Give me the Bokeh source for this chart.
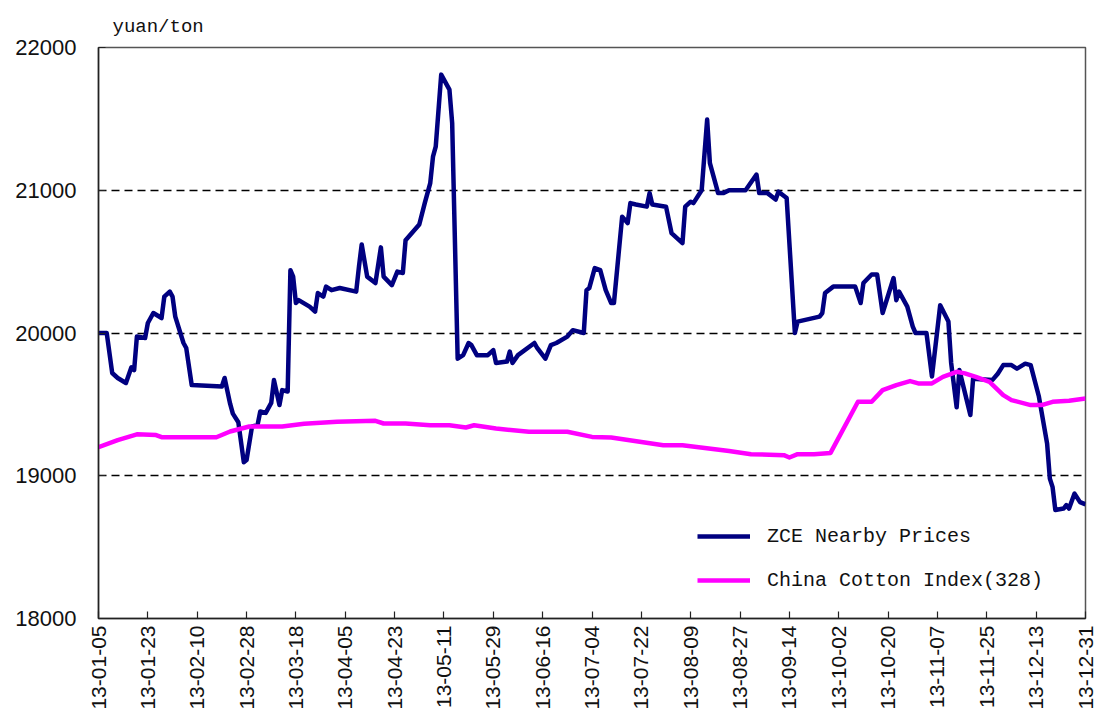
import pandas as pd
from math import pi
from bokeh.plotting import figure
from bokeh.models import (ColumnDataSource, Range1d, FixedTicker, DatetimeTickFormatter,
                          Legend, LegendItem)
from bokeh.embed import file_html
from bokeh.resources import INLINE

# ---------------- data ----------------
zce_dates = ["2013-01-05", "2013-01-08", "2013-01-10", "2013-01-12", "2013-01-15", "2013-01-17", "2013-01-18",
             "2013-01-19", "2013-01-22", "2013-01-23", "2013-01-25", "2013-01-28", "2013-01-29", "2013-01-31",
             "2013-02-01", "2013-02-02", "2013-02-05", "2013-02-06", "2013-02-08", "2013-02-19", "2013-02-20",
             "2013-02-22", "2013-02-23", "2013-02-25", "2013-02-27", "2013-02-28", "2013-03-02", "2013-03-04",
             "2013-03-05", "2013-03-07", "2013-03-09", "2013-03-10", "2013-03-12", "2013-03-13", "2013-03-15",
             "2013-03-16", "2013-03-17", "2013-03-18", "2013-03-19", "2013-03-23", "2013-03-25", "2013-03-26",
             "2013-03-28", "2013-03-29", "2013-03-31", "2013-04-03", "2013-04-09", "2013-04-10", "2013-04-11",
             "2013-04-13", "2013-04-16", "2013-04-18", "2013-04-19", "2013-04-22", "2013-04-24", "2013-04-26",
             "2013-04-27", "2013-05-02", "2013-05-04", "2013-05-06", "2013-05-07", "2013-05-08", "2013-05-10",
             "2013-05-13", "2013-05-14", "2013-05-16", "2013-05-18", "2013-05-20", "2013-05-21", "2013-05-23",
             "2013-05-27", "2013-05-29", "2013-05-30", "2013-06-03", "2013-06-04", "2013-06-05", "2013-06-07",
             "2013-06-13", "2013-06-14", "2013-06-17", "2013-06-19", "2013-06-21", "2013-06-25", "2013-06-27",
             "2013-07-01", "2013-07-02", "2013-07-03", "2013-07-05", "2013-07-07", "2013-07-09", "2013-07-11",
             "2013-07-12", "2013-07-15", "2013-07-17", "2013-07-18", "2013-07-20", "2013-07-24", "2013-07-25",
             "2013-07-26", "2013-07-31", "2013-08-02", "2013-08-06", "2013-08-07", "2013-08-09", "2013-08-10",
             "2013-08-13", "2013-08-15", "2013-08-16", "2013-08-19", "2013-08-21", "2013-08-23", "2013-08-29",
             "2013-09-02", "2013-09-03", "2013-09-06", "2013-09-09", "2013-09-10", "2013-09-13", "2013-09-16",
             "2013-09-17", "2013-09-25", "2013-09-26", "2013-09-27", "2013-09-30", "2013-10-08", "2013-10-10",
             "2013-10-11", "2013-10-14", "2013-10-16", "2013-10-18", "2013-10-22", "2013-10-23", "2013-10-24",
             "2013-10-27", "2013-10-29", "2013-10-30", "2013-11-03", "2013-11-05", "2013-11-08", "2013-11-11",
             "2013-11-12", "2013-11-14", "2013-11-15", "2013-11-19", "2013-11-20", "2013-11-27", "2013-11-29",
             "2013-12-01", "2013-12-04", "2013-12-06", "2013-12-09", "2013-12-11", "2013-12-14", "2013-12-17",
             "2013-12-18", "2013-12-19", "2013-12-20", "2013-12-23", "2013-12-24", "2013-12-25", "2013-12-27",
             "2013-12-29", "2013-12-31"]
zce_prices = [20000, 20000, 19720, 19685, 19650, 19760, 19740,
              19975, 19965, 20070, 20140, 20105, 20255, 20290,
              20255, 20115, 19930, 19895, 19635, 19625, 19685,
              19505, 19435, 19375, 19095, 19110, 19345, 19355,
              19450, 19440, 19510, 19670, 19495, 19600, 19590,
              20440, 20395, 20210, 20230, 20185, 20150, 20280,
              20255, 20325, 20300, 20315, 20290, 20465, 20620,
              20395, 20350, 20600, 20395, 20335, 20430, 20420,
              20650, 20760, 20910, 21050, 21235, 21305, 21810,
              21705, 21470, 19820, 19845, 19930, 19915, 19845,
              19845, 19880, 19790, 19800, 19870, 19790, 19845,
              19930, 19895, 19820, 19915, 19930, 19975, 20020,
              20000, 20300, 20315, 20455, 20440, 20300, 20210,
              20210, 20815, 20770, 20910, 20900, 20885, 20980,
              20900, 20885, 20700, 20630, 20885, 20920, 20910,
              21000, 21495, 21190, 20980, 20980, 21000, 21000,
              21110, 20980, 20980, 20935, 20990, 20945, 20000,
              20080, 20115, 20140, 20280, 20325, 20325, 20210,
              20350, 20410, 20410, 20140, 20385, 20230, 20290,
              20185, 20045, 20000, 20000, 19695, 20195, 20080,
              19790, 19480, 19740, 19425, 19680, 19670, 19715,
              19775, 19775, 19750, 19785, 19775, 19555, 19225,
              18980, 18920, 18760, 18770, 18795, 18770, 18875,
              18815, 18800]

cci_dates = ["2013-01-05", "2013-01-12", "2013-01-19", "2013-01-26", "2013-01-28", "2013-02-17", "2013-02-22",
             "2013-03-01", "2013-03-13", "2013-03-21", "2013-04-02", "2013-04-16", "2013-04-19", "2013-04-27",
             "2013-05-06", "2013-05-13", "2013-05-19", "2013-05-22", "2013-05-30", "2013-06-11", "2013-06-25",
             "2013-07-04", "2013-07-11", "2013-07-30", "2013-08-06", "2013-08-23", "2013-08-31", "2013-09-12",
             "2013-09-14", "2013-09-17", "2013-09-23", "2013-09-29", "2013-10-09", "2013-10-14", "2013-10-18",
             "2013-10-23", "2013-10-28", "2013-10-31", "2013-11-05", "2013-11-09", "2013-11-14", "2013-11-17",
             "2013-11-21", "2013-11-26", "2013-12-01", "2013-12-04", "2013-12-11", "2013-12-15", "2013-12-19",
             "2013-12-25", "2013-12-31"]
cci_prices = [19200, 19250, 19290, 19285, 19270, 19270, 19310,
              19345, 19345, 19365, 19378, 19385, 19366, 19366,
              19354, 19354, 19338, 19354, 19331, 19308, 19308,
              19272, 19268, 19214, 19214, 19174, 19151, 19144,
              19128, 19151, 19151, 19160, 19518, 19518, 19600,
              19635, 19663, 19647, 19647, 19693, 19728, 19717,
              19693, 19658, 19565, 19530, 19495, 19495, 19518,
              19525, 19541]

tick_dates = ["2013-01-05", "2013-01-23", "2013-02-10", "2013-02-28", "2013-03-18", "2013-04-05", "2013-04-23",
              "2013-05-11", "2013-05-29", "2013-06-16", "2013-07-04", "2013-07-22", "2013-08-09", "2013-08-27",
              "2013-09-14", "2013-10-02", "2013-10-20", "2013-11-07", "2013-11-25", "2013-12-13", "2013-12-31"]
y_ticks = [18000, 19000, 20000, 21000, 22000]
grid_levels = [19000, 20000, 21000]

series_names = ["ZCE Nearby Prices", "China Cotton Index(328)"]
unit_label = "yuan/ton"

# ---------------- plot ----------------
zce_src = ColumnDataSource(dict(x=pd.to_datetime(zce_dates), y=zce_prices))
cci_src = ColumnDataSource(dict(x=pd.to_datetime(cci_dates), y=cci_prices))

tick_ms = [pd.Timestamp(d).value / 1e6 for d in tick_dates]

p = figure(width=1098, height=716, x_axis_type="datetime", output_backend="svg",
           toolbar_location=None, tools="",
           x_range=Range1d(pd.Timestamp(tick_dates[0]), pd.Timestamp(tick_dates[-1])),
           y_range=Range1d(18000, 22000),
           min_border_left=98, min_border_right=13, min_border_top=47, min_border_bottom=98)
p.background_fill_color = "white"
p.border_fill_color = "white"
p.outline_line_color = "#555555"
p.outline_line_width = 1.5

# title used as the unit label above the plot
p.title.text = unit_label
p.title.align = "left"
p.title.offset = 14
p.title.standoff = 19
p.title.text_font = "Liberation Mono"
p.title.text_font_size = "19px"
p.title.text_font_style = "normal"
p.title.text_color = "#111111"

# axes
for ax in (p.xaxis[0], p.yaxis[0]):
    ax.axis_line_color = "#222222"
    ax.axis_line_width = 1.5
    ax.major_tick_in = 7
    ax.major_tick_out = 0
    ax.major_tick_line_color = "#222222"
    ax.major_tick_line_width = 1.2
    ax.minor_tick_line_color = None
    ax.major_label_text_font = "Liberation Sans"
    ax.major_label_text_color = "#111111"

p.yaxis.major_label_text_font_size = "22px"
p.xaxis.major_label_text_font_size = "21px"

p.xaxis.ticker = FixedTicker(ticks=tick_ms)
fmt = "%y-%m-%d"
p.xaxis.formatter = DatetimeTickFormatter(days=fmt, months=fmt, years=fmt, hours=fmt,
                                          minutes=fmt, seconds=fmt, milliseconds=fmt,
                                          microseconds=fmt, hourmin=fmt, minsec=fmt)
p.xaxis.major_label_orientation = pi / 2
p.xaxis.major_label_standoff = 7

p.yaxis.ticker = FixedTicker(ticks=y_ticks)
p.yaxis.major_label_standoff = 22

# grid
p.xgrid.grid_line_color = None
p.ygrid.ticker = FixedTicker(ticks=grid_levels)
p.ygrid.grid_line_color = "black"
p.ygrid.grid_line_width = 1.3
p.ygrid.grid_line_dash = "8 5"

# lines
r1 = p.line("x", "y", source=zce_src, line_color="#000080", line_width=4.5, line_join="round")
r2 = p.line("x", "y", source=cci_src, line_color="#FF00FF", line_width=4.5, line_join="round")

legend = Legend(items=[LegendItem(label=series_names[0], renderers=[r1]),
                       LegendItem(label=series_names[1], renderers=[r2])],
                location=(599, 26), orientation="vertical",
                label_text_font="Liberation Mono", label_text_font_size="20px",
                label_text_color="#111111",
                glyph_width=53, glyph_height=24, label_height=24, label_standoff=17,
                spacing=20, padding=0, margin=0,
                border_line_color=None, background_fill_alpha=0)
p.add_layout(legend, "center")

open("out.html", "w").write(file_html(p, INLINE))
